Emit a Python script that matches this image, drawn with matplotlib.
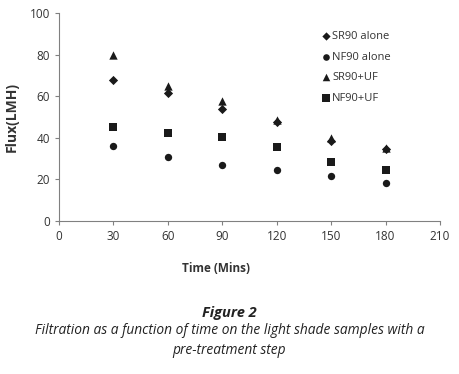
import matplotlib
matplotlib.use("Agg")
from matplotlib import pyplot as plt

time = [30, 60, 90, 120, 150, 180]
sr90_alone = [68, 61.5, 54, 47.8, 38.7, 34.7]
nf90_alone = [36.3, 31, 27, 24.6, 21.7, 18.5]
sr90_uf = [80, 65, 57.5, 48.6, 39.8, 35.3]
nf90_uf = [45.3, 42.5, 40.6, 35.6, 28.4, 24.4]

names = ["SR90 alone", "NF90 alone", "SR90+UF", "NF90+UF"]
markers = ["D", "o", "^", "s"]
sizes = [22, 28, 36, 40]

plt.rcParams["font.family"] = ["Open Sans", "DejaVu Sans"]

fig = plt.figure(figsize=(4.59, 3.74), dpi=100)
ax = fig.add_axes([0.1285, 0.409, 0.83, 0.556])

series = [sr90_alone, nf90_alone, sr90_uf, nf90_uf]
for vals, name, m, s in zip(series, names, markers, sizes):
    ax.scatter(time, vals, marker=m, s=s, color="#1a1a1a",
               label=name, zorder=3, linewidths=0)

ax.set_xlim(0, 210)
ax.set_ylim(0, 100)
ax.set_xticks(range(0, 211, 30))
ax.set_yticks(range(0, 101, 20))
for side in ["top", "right"]:
    ax.spines[side].set_visible(False)
for side in ["left", "bottom"]:
    ax.spines[side].set_color("#808080")
    ax.spines[side].set_linewidth(0.8)
ax.tick_params(colors="#808080", labelcolor="#333333", labelsize=8.5,
               length=3, width=0.8)

ax.set_xlabel("Time (Mins)", fontsize=8.5, fontweight="bold", color="#333333")
ax.xaxis.set_label_coords(0.412, -0.197)
ax.set_ylabel("Flux(LMH)", fontsize=10, fontweight="bold", color="#333333")
ax.yaxis.set_label_coords(-0.105, 0.5)

ax.legend(loc="upper left", bbox_to_anchor=(0.66, 0.96), frameon=False,
          fontsize=8, handletextpad=0.05, labelspacing=0.85,
          handlelength=1.0, labelcolor="#333333", markerscale=0.9)

fig.text(0.5, 0.163, "Figure 2", ha="center", va="center", fontsize=10.5,
         fontweight="bold", style="italic", color="#222222")
fig.text(0.5, 0.115, "Filtration as a function of time on the light shade samples with a",
         ha="center", va="center", fontsize=9.9, style="italic", color="#222222")
fig.text(0.5, 0.064, "pre-treatment step", ha="center", va="center", fontsize=9.9,
         style="italic", color="#222222")

fig.savefig("out.png", dpi=100)
